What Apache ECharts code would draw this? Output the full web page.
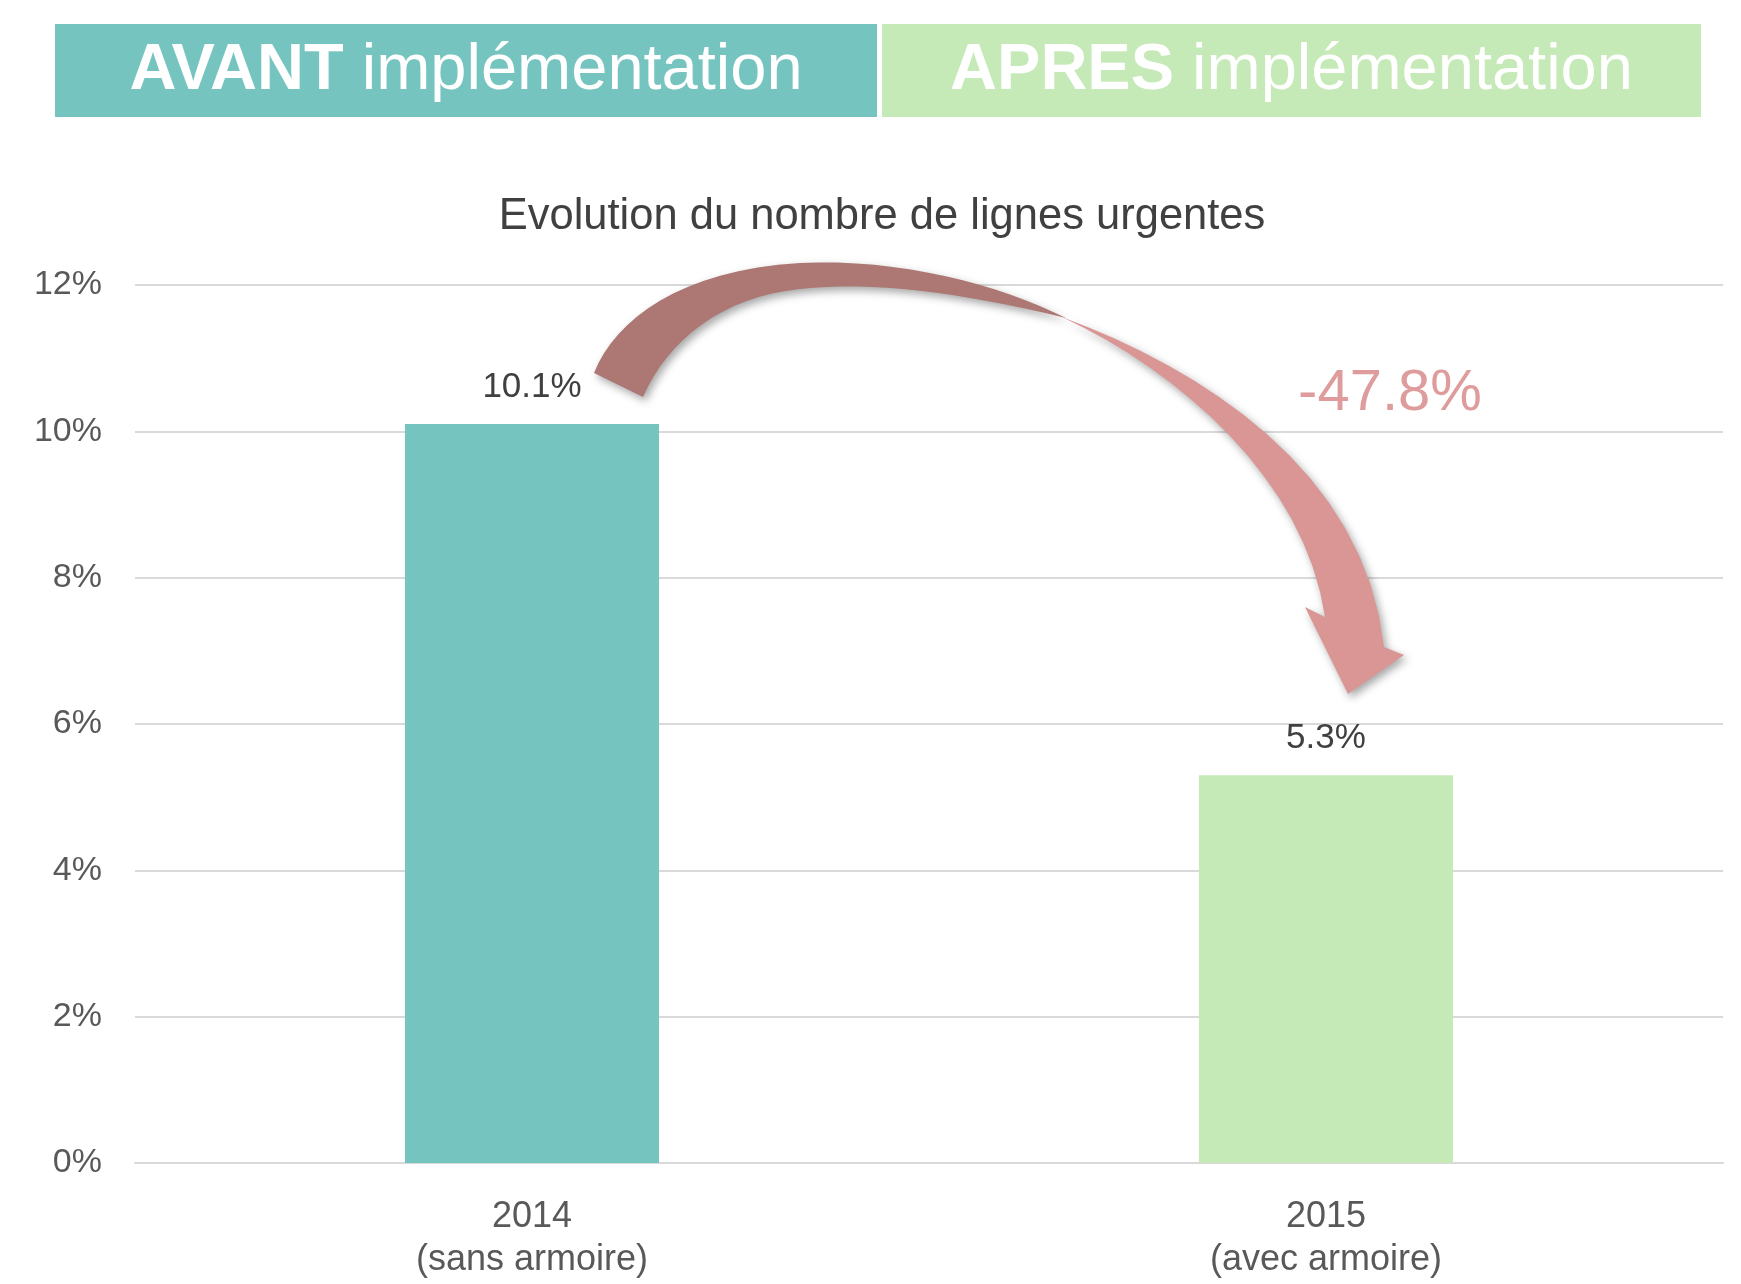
<!DOCTYPE html>
<html>
<head>
<meta charset="utf-8">
<script src="https://cdn.jsdelivr.net/npm/echarts@6/dist/echarts.min.js"></script>
<style>
  html, body { margin: 0; padding: 0; background: #fff; }
  #main { width: 1741px; height: 1284px; }
</style>
</head>
<body>
<div id="main"></div>
<script>
var categories = ['2014\n(sans armoire)', '2015\n(avec armoire)'];
var values = [0.101, 0.053];
var barColors = ['#76C4C0', '#C5E9B7'];
var headers = [['AVANT', ' implémentation'], ['APRES', ' implémentation']];
var changeText = '-47.8%';
var chartTitle = 'Evolution du nombre de lignes urgentes';

var FONT = '"Liberation Sans", Arial, sans-serif';
var myChart = echarts.init(document.getElementById('main'));

// header boxes: x0, x1
var headerBoxes = [[55, 877], [882, 1701]];

function headerGraphics() {
    var out = [];
    for (var i = 0; i < headers.length; i++) {
        var b = headerBoxes[i];
        out.push({
            type: 'rect',
            shape: {x: b[0], y: 24, width: b[1] - b[0], height: 93},
            style: {fill: barColors[i]}
        });
        out.push({
            type: 'text',
            x: (b[0] + b[1]) / 2,
            y: 71,
            style: {
                text: '{b|' + headers[i][0] + '}{n|' + headers[i][1] + '}',
                align: 'center',
                verticalAlign: 'middle',
                rich: {
                    b: {fontFamily: FONT, fontSize: 65, fontWeight: 'bold', fill: '#fff', color: '#fff'},
                    n: {fontFamily: FONT, fontSize: 65, fill: '#fff', color: '#fff'}
                }
            }
        });
    }
    return out;
}

// turn a list of segments (start point, then cubic [c1, c2, end] or line [end]) into polygon points
function outline(start, segs) {
    var pts = [start];
    var cur = start;
    segs.forEach(function (s) {
        if (s.length === 1) {
            pts.push(s[0]);
            cur = s[0];
            return;
        }
        for (var k = 1; k <= 16; k++) {
            var t = k / 16, u = 1 - t;
            pts.push([
                u * u * u * cur[0] + 3 * u * u * t * s[0][0] + 3 * u * t * t * s[1][0] + t * t * t * s[2][0],
                u * u * u * cur[1] + 3 * u * u * t * s[0][1] + 3 * u * t * t * s[1][1] + t * t * t * s[2][1]
            ]);
        }
        cur = s[2];
    });
    return pts;
}

// curved arrow: back side (darker) then front side (lighter) after the twist
var arrowBack = outline([594, 373], [
    [[615, 320], [680, 270], [800, 263]],
    [[900, 258], [1000, 285], [1066, 318]],
    [[960, 292], [870, 281], [800, 289]],
    [[722, 297], [668, 340], [643, 397]]
]);
var arrowFront = outline([1062, 317], [
    [[1200, 368], [1365, 470], [1384, 647]],
    [[1404, 655]],
    [[1348, 694]],
    [[1305, 607]],
    [[1325, 617]],
    [[1305, 480], [1180, 372], [1062, 317]]
]);

var shadow = {shadowBlur: 8, shadowColor: 'rgba(0,0,0,0.35)', shadowOffsetX: 3, shadowOffsetY: 4};

option = {
    animation: false,
    title: {
        text: chartTitle,
        left: 877,
        textAlign: 'center',
        top: 190,
        textStyle: {fontFamily: FONT, fontSize: 43.5, fontWeight: 'normal', color: '#404040'}
    },
    grid: {left: 135, right: 18, top: 285, bottom: 121},
    xAxis: {
        type: 'category',
        data: categories,
        axisLine: {lineStyle: {color: '#D9D9D9', width: 2}},
        axisTick: {show: false},
        axisLabel: {
            fontFamily: FONT, fontSize: 36, color: '#595959',
            lineHeight: 43, margin: 33
        }
    },
    yAxis: {
        type: 'value',
        min: 0,
        max: 0.12,
        interval: 0.02,
        axisLine: {show: false},
        axisTick: {show: false},
        splitLine: {lineStyle: {color: '#D9D9D9', width: 2}},
        axisLabel: {
            fontFamily: FONT, fontSize: 34, color: '#595959', margin: 33,
            formatter: function (v) { return Math.round(v * 100) + '%'; }
        }
    },
    series: [{
        type: 'bar',
        barWidth: '32%',
        data: values.map(function (v, i) {
            return {value: v, itemStyle: {color: barColors[i]}};
        }),
        label: {
            show: true,
            position: 'top',
            distance: 19,
            fontFamily: FONT, fontSize: 35, color: '#404040',
            formatter: function (p) { return (p.value * 100).toFixed(1) + '%'; }
        }
    }],
    graphic: headerGraphics().concat([
        {
            type: 'polygon', z: 10,
            shape: {points: arrowBack},
            style: Object.assign({fill: '#AD7773'}, shadow)
        },
        {
            type: 'polygon', z: 10,
            shape: {points: arrowFront},
            style: Object.assign({fill: '#D99694'}, shadow)
        },
        {
            type: 'text', z: 10,
            x: 1390, y: 394,
            style: {
                text: changeText, align: 'center', verticalAlign: 'middle',
                fontFamily: FONT, fontSize: 58, fill: '#DE9C9C'
            }
        }
    ])
};

myChart.setOption(option);
</script>
</body>
</html>
